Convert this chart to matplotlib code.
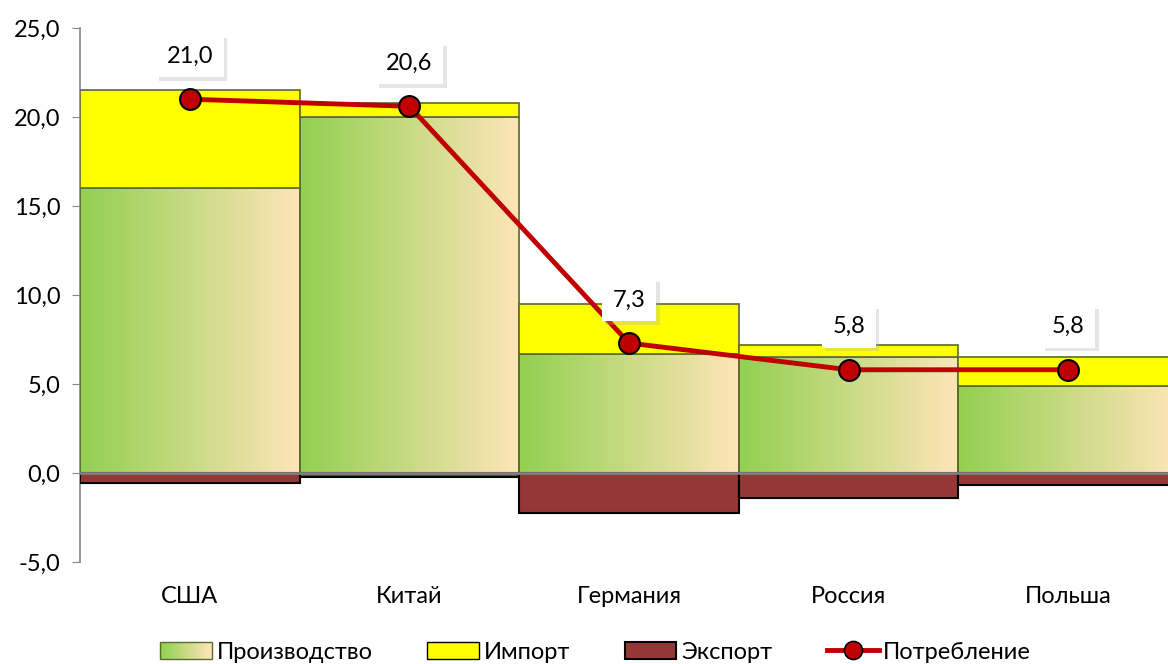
import numpy as np
import matplotlib
matplotlib.use("Agg")
import matplotlib.pyplot as plt
import matplotlib as mpl
from matplotlib.patches import Rectangle
from matplotlib.lines import Line2D
from matplotlib.legend_handler import HandlerBase
import matplotlib.patheffects as pe

plt.rcParams['font.family'] = ['Lato', 'DejaVu Sans']

countries = ['США', 'Китай', 'Германия', 'Россия', 'Польша']
production = [16.0, 20.0, 6.7, 6.5, 4.9]
imports = [5.5, 0.8, 2.8, 0.7, 1.6]
exports = [-0.55, -0.2, -2.25, -1.4, -0.7]
consumption = [21.0, 20.6, 7.3, 5.8, 5.8]
yticks = [-5, 0, 5, 10, 15, 20, 25]

green = '#92D050'
peach = '#FFE5B8'
yellow = '#FFFF00'
brown = '#953735'
red = '#C00000'
edge = '#5A6B2E'

def colorFader(c1, c2, mix=0):
    c1 = np.array(mpl.colors.to_rgb(c1))
    c2 = np.array(mpl.colors.to_rgb(c2))
    return (1 - mix) * c1 + mix * c2

grad = np.array([[colorFader(green, peach, m) for m in np.linspace(0, 1, 256)]])


class GradientHandler(HandlerBase):
    def create_artists(self, legend, orig_handle, xdescent, ydescent,
                       width, height, fontsize, trans):
        arts = []
        n = 30
        for i in range(n):
            r = Rectangle((-xdescent + width * i / n, -ydescent), width / n + 0.3, height,
                          facecolor=colorFader(green, peach, i / (n - 1)), edgecolor='none',
                          transform=trans)
            arts.append(r)
        arts.append(Rectangle((-xdescent, -ydescent), width, height, facecolor='none',
                              edgecolor=edge, lw=1, transform=trans))
        return arts


fig = plt.figure(figsize=(11.68, 6.64), dpi=100)
ax = fig.add_axes([80 / 1168, 102 / 664, 1098 / 1168, 534 / 664])

x = np.arange(len(countries))

prod_bars = ax.bar(x, production, width=1.0, facecolor='none', edgecolor=edge, lw=1.2, zorder=3)
for b in prod_bars:
    x0, y0 = b.get_x(), b.get_y()
    im = ax.imshow(grad, extent=[x0, x0 + b.get_width(), y0, y0 + b.get_height()],
                   aspect='auto', zorder=2)
    im.set_clip_path(b)

ax.bar(x, imports, width=1.0, bottom=production, color=yellow, edgecolor=edge, lw=1.2, zorder=3)
ax.bar(x, exports, width=1.0, color=brown, edgecolor='black', lw=1.5, zorder=3)
ax.axhline(0, color='#808080', lw=2, zorder=4)

ax.plot(x, consumption, color=red, lw=3.5, marker='o', markersize=15,
        markerfacecolor=red, markeredgecolor='black', markeredgewidth=1.5, zorder=5)

for xi, v in zip(x, consumption):
    t = ax.annotate(f'{v:.1f}'.replace('.', ','), (xi, v), xytext=(0, 31),
                    textcoords='offset points', ha='center', va='center', fontsize=17,
                    bbox=dict(boxstyle='square,pad=0.45', fc='white', ec='none'), zorder=6)
    t.get_bbox_patch().set_path_effects([
        pe.SimplePatchShadow(offset=(2.5, -2.5), shadow_rgbFace='#aaaaaa', alpha=0.3),
        pe.Normal()])

ax.set_xlim(-0.5, len(countries) - 0.5)
ax.set_ylim(-5, 25)
ax.set_yticks(yticks)
ax.set_yticklabels([f'{v:.1f}'.replace('.', ',') for v in yticks], fontsize=17)
ax.set_xticks(x)
ax.set_xticklabels(countries, fontsize=17)
ax.tick_params(axis='x', length=0, pad=17)
ax.tick_params(axis='y', length=6, color='#868686', direction='out', pad=8)
for s in ['top', 'right', 'bottom']:
    ax.spines[s].set_visible(False)
ax.spines['left'].set_color('#868686')
ax.spines['left'].set_linewidth(1.2)

handles = [
    Rectangle((0, 0), 1, 1),
    Rectangle((0, 0), 1, 1, facecolor=yellow, edgecolor='black', lw=1),
    Rectangle((0, 0), 1, 1, facecolor=brown, edgecolor='black', lw=1.5),
    Line2D([], [], color=red, lw=3.5, marker='o', markersize=13,
           markerfacecolor=red, markeredgecolor='black', markeredgewidth=1.2),
]
labels = ['Производство', 'Импорт', 'Экспорт', 'Потребление']
fig.legend(handles, labels, loc='lower center', bbox_to_anchor=(0.51, -0.03), ncol=4,
           frameon=False, fontsize=17, handlelength=2.2, handleheight=0.7, handletextpad=0.2,
           columnspacing=2.3, handler_map={handles[0]: GradientHandler()})

fig.savefig('out.png', dpi=100)
